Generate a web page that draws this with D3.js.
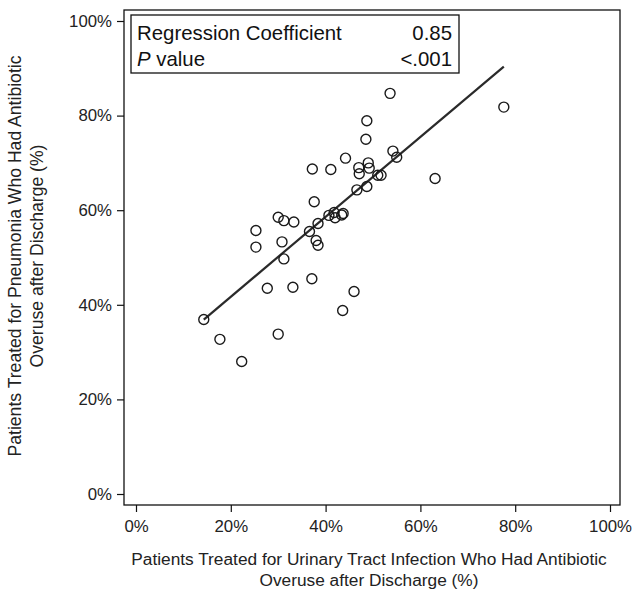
<!DOCTYPE html>
<html><head><meta charset="utf-8">
<script src="https://cdn.jsdelivr.net/npm/d3@7"></script>
<style>html,body{margin:0;padding:0;background:#fff;}svg{display:block;font-family:"Liberation Sans",Arial,sans-serif;}</style>
</head><body>
<svg id="c" width="632" height="590"></svg>
<script>
// UTI overuse (%) per hospital
const utiPct = [14.3,17.7,22.3,30.0,25.3,25.3,30.0,31.2,33.3,30.8,31.2,27.7,33.1,37.1,46.0,43.6,37.6,36.6,38.4,38.0,38.4,40.7,41.8,42.0,43.7,43.4,37.2,41.1,44.2,47.0,49.0,49.2,47.1,51.0,51.7,54.2,55.0,46.6,48.7,53.6,48.7,48.5,77.6,63.1];
// Pneumonia overuse (%) per hospital
const pnaPct = [36.9,32.7,28.0,33.8,55.7,52.2,58.5,57.8,57.5,53.3,49.7,43.5,43.7,45.5,42.8,38.8,61.8,55.5,57.2,53.6,52.6,58.9,59.5,58.4,59.3,59.0,68.7,68.6,71.0,69.0,70.0,68.9,67.7,67.4,67.4,72.5,71.2,64.3,65.0,84.7,78.9,75.0,81.8,66.7];
const tickValues = [0,20,40,60,80,100];
const fitIntercept = 24.8, fitSlope = 0.845;
const statLabels = ["Regression Coefficient","P value"];
const statValues = ["0.85","<.001"];
const xTitle = ["Patients Treated for Urinary Tract Infection Who Had Antibiotic","Overuse after Discharge (%)"];
const yTitle = ["Patients Treated for Pneumonia Who Had Antibiotic","Overuse after Discharge (%)"];

const svg = d3.select("#c");
const box = {l:124, r:620, t:10, b:505};
const x = d3.scaleLinear().domain([0,100]).range([136,610]);
const y = d3.scaleLinear().domain([0,100]).range([494,21]);

svg.append("rect").attr("x",box.l).attr("y",box.t).attr("width",box.r-box.l).attr("height",box.b-box.t)
  .attr("fill","none").attr("stroke","#111").attr("stroke-width",1.3);

const fmt = d => d + "%";
const xa = svg.append("g").attr("transform",`translate(0,${box.b})`)
  .call(d3.axisBottom(x).tickValues(tickValues).tickFormat(fmt).tickSize(7).tickPadding(8));
const ya = svg.append("g").attr("transform",`translate(${box.l},0)`)
  .call(d3.axisLeft(y).tickValues(tickValues).tickFormat(fmt).tickSize(7).tickPadding(5));
[xa,ya].forEach(a=>{
  a.select(".domain").remove();
  a.selectAll("line").attr("stroke","#111").attr("stroke-width",1.2);
  a.selectAll("text").attr("font-size",16.8).attr("fill","#222").attr("font-family","Liberation Sans, Arial, sans-serif");
});

// fit line
const xExt = d3.extent(utiPct);
svg.append("line")
  .attr("x1",x(xExt[0])).attr("y1",y(fitIntercept+fitSlope*xExt[0]))
  .attr("x2",x(xExt[1])).attr("y2",y(fitIntercept+fitSlope*xExt[1]))
  .attr("stroke","#2a2a2a").attr("stroke-width",2.2);

svg.append("g").selectAll("circle").data(utiPct).join("circle")
  .attr("cx",d=>x(d)).attr("cy",(d,i)=>y(pnaPct[i])).attr("r",5)
  .attr("fill","none").attr("stroke","#1a1a1a").attr("stroke-width",1.4);

// stats box
svg.append("rect").attr("x",131).attr("y",15).attr("width",328).attr("height",58)
  .attr("fill","#fff").attr("stroke","#111").attr("stroke-width",1.3);
const st = svg.append("g").attr("font-size",20.4).attr("fill","#111");
st.append("text").attr("x",137).attr("y",40).text(statLabels[0]);
const pv = st.append("text").attr("x",137).attr("y",66);
pv.append("tspan").attr("font-style","italic").text(statLabels[1].split(" ")[0]);
pv.append("tspan").text(" " + statLabels[1].split(" ").slice(1).join(" "));
statValues.forEach((v,i)=>st.append("text").attr("x",452).attr("y",40+26*i).attr("text-anchor","end").text(v));

// axis titles
const xt = svg.append("g").attr("font-size",17.3).attr("fill","#222").attr("text-anchor","middle");
xTitle.forEach((t,i)=>xt.append("text").attr("x",369).attr("y",565+21*i).text(t));
const yt = svg.append("g").attr("font-size",17.6).attr("fill","#222").attr("text-anchor","middle");
yTitle.forEach((t,i)=>yt.append("text").attr("transform",`translate(${21+22*i},256) rotate(-90)`).text(t));
</script>
</body></html>
